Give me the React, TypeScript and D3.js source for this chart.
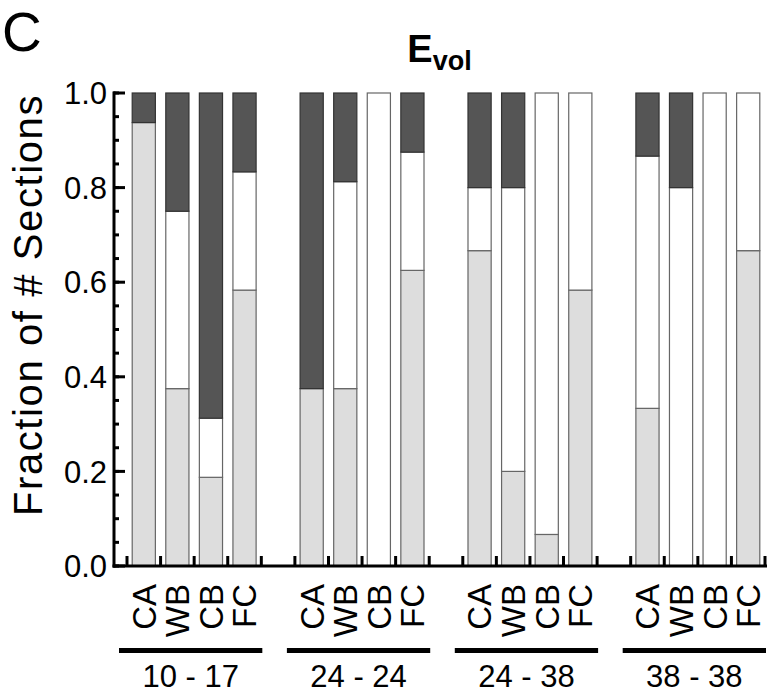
import * as d3 from "d3";

// Stacked fractions per group (rows) and region (columns)
const groups = ["10 - 17", "24 - 24", "24 - 38", "38 - 38"];
const regions = ["CA", "WB", "CB", "FC"];
const lightFrac = [
  [0.9375, 0.375, 0.1875, 0.5833],
  [0.375, 0.375, 0, 0.625],
  [0.6667, 0.2, 0.0667, 0.5833],
  [0.3333, 0, 0, 0.6667],
];
const whiteFrac = [
  [0, 0.375, 0.125, 0.25],
  [0, 0.4375, 1, 0.25],
  [0.1333, 0.6, 0.9333, 0.4167],
  [0.5333, 0.8, 1, 0.3333],
];
const darkFrac = [
  [0.0625, 0.25, 0.6875, 0.1667],
  [0.625, 0.1875, 0, 0.125],
  [0.2, 0.2, 0, 0],
  [0.1333, 0.2, 0, 0],
];
const yTicks = [0, 0.2, 0.4, 0.6, 0.8, 1.0];

const FONT = "'Liberation Sans', Arial, Helvetica, sans-serif";
const keys = ["light", "white", "dark"];
const fills: Record<string, string> = { light: "#dddddd", white: "#ffffff", dark: "#555555" };

export default function App() {
  const width = 775,
    height = 694;
  const axisLeft = 114,
    axisRight = 767,
    y0 = 566,
    y1 = 93;

  // one slot per bar, plus an empty slot between groups
  const slots: string[] = [];
  groups.forEach((g, gi) => {
    regions.forEach((r) => slots.push(`${g}|${r}`));
    if (gi < groups.length - 1) slots.push(`gap${gi}`);
  });

  const x = d3.scaleBand().domain(slots).range([127, 765]).padding(0);
  const step = x.step();
  const barW = step * 0.69;
  const y = d3.scaleLinear().domain([0, 1]).range([y0, y1]);

  const rows = groups.flatMap((g, gi) =>
    regions.map((r, ri) => ({
      key: `${g}|${r}`,
      region: r,
      light: lightFrac[gi][ri],
      white: whiteFrac[gi][ri],
      dark: darkFrac[gi][ri],
    }))
  );
  const series = d3.stack<any>().keys(keys)(rows);

  const minorTicks = d3.range(0, 1.0001, 0.05);
  const boundaries = d3.range(slots.length + 1).map((i) => 127 + i * step);

  return (
    <svg
      width={width}
      height={height}
      style={{ position: "absolute", left: 0, top: 0, background: "#fff" }}
      fontFamily={FONT}
    >
      <text x={2} y={51} fontSize={55} fill="#000">
        C
      </text>

      <text x={(axisLeft + axisRight) / 2 - 1} y={62} textAnchor="middle" fontWeight="bold" fill="#000">
        <tspan fontSize={38}>E</tspan>
        <tspan fontSize={27} dy={8}>
          vol
        </tspan>
      </text>

      {/* stacked bars */}
      {series.map((s) =>
        s.map((d: any, i: number) => {
          const h = y(d[0]) - y(d[1]);
          if (h <= 0.01) return null;
          return (
            <rect
              key={`${s.key}-${i}`}
              x={(x(d.data.key) as number) + (step - barW) / 2}
              y={y(d[1])}
              width={barW}
              height={h}
              fill={fills[s.key]}
              stroke={s.key === "dark" ? "#333" : "#666"}
              strokeWidth={1.2}
            />
          );
        })
      )}

      {/* y axis */}
      <line x1={axisLeft} x2={axisLeft} y1={y1 - 1.5} y2={y0 + 1.5} stroke="#000" strokeWidth={3} />
      {minorTicks.map((t) => (
        <line key={`m${t}`} x1={axisLeft} x2={axisLeft + 5} y1={y(t)} y2={y(t)} stroke="#000" strokeWidth={3} />
      ))}
      {yTicks.map((t) => (
        <g key={`t${t}`}>
          <line x1={axisLeft - 1} x2={axisLeft + 11} y1={y(t)} y2={y(t)} stroke="#000" strokeWidth={3} />
          <text x={107} y={y(t)} dy="0.36em" textAnchor="end" fontSize={31} fill="#000">
            {t.toFixed(1)}
          </text>
        </g>
      ))}
      <text
        transform={`translate(42,305) rotate(-90)`}
        textAnchor="middle"
        fontSize={40}
        letterSpacing={1.6}
        fill="#000"
      >
        Fraction of # Sections
      </text>

      {/* x axis */}
      <line x1={axisLeft - 1.5} x2={axisRight} y1={y0} y2={y0} stroke="#000" strokeWidth={3} />
      {boundaries.map((b, i) => (
        <line key={`b${i}`} x1={b} x2={b} y1={y0} y2={y0 - 10} stroke="#000" strokeWidth={3} />
      ))}

      {/* region labels */}
      {rows.map((r) => {
        const cx = (x(r.key) as number) + step / 2;
        return (
          <text
            key={`l${r.key}`}
            transform={`translate(${cx},584) rotate(-90)`}
            textAnchor="end"
            dy="0.36em"
            fontSize={33}
            fill="#000"
          >
            {r.region}
          </text>
        );
      })}

      {/* group underlines and labels */}
      {groups.map((g) => {
        const start = (x(`${g}|${regions[0]}`) as number) - 8;
        const end = (x(`${g}|${regions[regions.length - 1]}`) as number) + step + 1;
        return (
          <g key={`g${g}`}>
            <rect x={start} y={648} width={end - start} height={5} fill="#000" />
            <text x={(start + end) / 2} y={687} textAnchor="middle" fontSize={31} fill="#000">
              {g}
            </text>
          </g>
        );
      })}
    </svg>
  );
}
